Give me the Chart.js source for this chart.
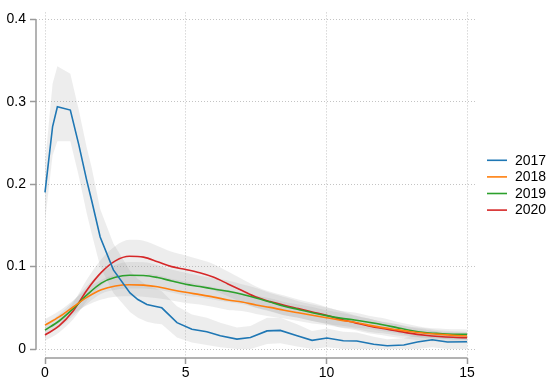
<!DOCTYPE html>
<html lang="en">
<head>
  <meta charset="UTF-8">
  <title>Densities 2017-2020</title>
  <script src="https://cdn.jsdelivr.net/npm/chart.js"></script>
  <style>
    body { margin: 0; background: #fff; }
  </style>
</head>
<body>
  <canvas id="chart0" width="550" height="387"></canvas>

  <script>
    /* Values. */
    const years = ["2017", "2018", "2019", "2020"]
    const colors = ["#1f77b4", "#ff7f0e", "#2ca02c", "#d62728"]

    const xTicks = [0, 5, 10, 15]
    const yTicks = [0, 0.1, 0.2, 0.3, 0.4]

    /* 2017 has its own, uneven x points */
    const x2017 = [0, 0.27, 0.44, 0.9, 1.2, 1.48, 1.66, 1.96, 2.43, 3.02, 3.3, 3.62, 3.9, 4.15, 4.69, 5.22,
      5.75, 6.23, 6.82, 7.3, 7.89, 8.36, 8.96, 9.49, 10.02, 10.6, 11.08, 11.68, 12.16, 12.75, 13.23,
      13.76, 14.3, 15]
    const y2017 = [0.19, 0.27, 0.294, 0.29, 0.248, 0.205, 0.18, 0.136, 0.096, 0.068, 0.06, 0.054, 0.052,
      0.05, 0.032, 0.024, 0.021, 0.016, 0.012, 0.014, 0.022, 0.0226, 0.016, 0.0105, 0.0133, 0.010,
      0.0097, 0.0057, 0.004, 0.0048, 0.0085, 0.0113, 0.0085, 0.0089]
    const lo2017 = [0.155, 0.235, 0.252, 0.252, 0.21, 0.165, 0.14, 0.10, 0.068, 0.045, 0.038, 0.033, 0.031,
      0.030, 0.014, 0.008, 0.005, 0.002, 0.0, 0.0, 0.006, 0.007, 0.003, 0.0, 0.002, 0.0,
      0.0, 0.0, 0.0, 0.0, 0.0, 0.002, 0.0, 0.0]
    const hi2017 = [0.225, 0.322, 0.343, 0.334, 0.29, 0.245, 0.22, 0.17, 0.128, 0.095, 0.085, 0.077, 0.074,
      0.070, 0.052, 0.042, 0.038, 0.032, 0.026, 0.028, 0.038, 0.038, 0.030, 0.022, 0.025, 0.021,
      0.020, 0.015, 0.012, 0.013, 0.018, 0.022, 0.018, 0.018]

    /* the smooth years share a grid of half units */
    const xGrid = [0, 0.5, 1, 1.5, 2, 2.5, 3, 3.5, 4, 4.5, 5, 5.5, 6, 6.5, 7, 7.5, 8, 8.5, 9, 9.5, 10,
      10.5, 11, 11.5, 12, 12.5, 13, 13.5, 14, 14.5, 15]

    const y2018 = [0.029, 0.039, 0.051, 0.063, 0.072, 0.0765, 0.078, 0.0775, 0.0755, 0.072, 0.0688, 0.066,
      0.063, 0.0595, 0.057, 0.0535, 0.0505, 0.047, 0.044, 0.041, 0.038, 0.035, 0.0325, 0.029, 0.026,
      0.0235, 0.021, 0.0192, 0.0178, 0.0166, 0.0158]
    const hi2018 = [0.036, 0.046, 0.059, 0.073, 0.084, 0.0895, 0.092, 0.0915, 0.0895, 0.085, 0.0818, 0.078,
      0.075, 0.0715, 0.068, 0.0645, 0.0615, 0.057, 0.054, 0.051, 0.047, 0.044, 0.0405, 0.037, 0.033,
      0.0305, 0.027, 0.0252, 0.0228, 0.0216, 0.0208]
    const lo2018 = [0.022, 0.032, 0.043, 0.053, 0.060, 0.0635, 0.064, 0.0635, 0.0615, 0.059, 0.0558, 0.054,
      0.051, 0.0475, 0.046, 0.0425, 0.0395, 0.037, 0.034, 0.031, 0.029, 0.026, 0.0245, 0.021, 0.019,
      0.0165, 0.015, 0.0132, 0.0128, 0.0116, 0.0108]

    const y2019 = [0.023, 0.034, 0.049, 0.066, 0.080, 0.087, 0.0895, 0.0893, 0.0868, 0.0825, 0.0785, 0.0758,
      0.0728, 0.070, 0.0665, 0.062, 0.057, 0.052, 0.048, 0.044, 0.0405, 0.0375, 0.0352, 0.0325, 0.0295,
      0.026, 0.0225, 0.020, 0.0188, 0.018, 0.0178]
    const hi2019 = [0.030, 0.042, 0.058, 0.077, 0.093, 0.102, 0.1055, 0.1053, 0.1018, 0.0965, 0.0925, 0.0888,
      0.0858, 0.083, 0.0785, 0.074, 0.068, 0.063, 0.058, 0.054, 0.0505, 0.0465, 0.0442, 0.0405, 0.0375,
      0.033, 0.0295, 0.026, 0.0248, 0.024, 0.0238]
    const lo2019 = [0.016, 0.026, 0.040, 0.055, 0.067, 0.072, 0.0735, 0.0733, 0.0718, 0.0685, 0.0645, 0.0628,
      0.0598, 0.057, 0.0545, 0.050, 0.046, 0.041, 0.038, 0.034, 0.0305, 0.0285, 0.0262, 0.0245, 0.0215,
      0.019, 0.0155, 0.014, 0.0128, 0.012, 0.0118]

    const y2020 = [0.017, 0.028, 0.046, 0.072, 0.093, 0.107, 0.1125, 0.1115, 0.106, 0.100, 0.0965, 0.0925,
      0.087, 0.079, 0.071, 0.063, 0.0575, 0.053, 0.049, 0.045, 0.041, 0.036, 0.032, 0.028, 0.0248,
      0.022, 0.019, 0.0168, 0.0152, 0.0142, 0.0137]
    const hi2020 = [0.024, 0.036, 0.056, 0.085, 0.109, 0.125, 0.1325, 0.1315, 0.125, 0.118, 0.1135, 0.1085,
      0.103, 0.094, 0.085, 0.076, 0.0695, 0.065, 0.060, 0.056, 0.051, 0.046, 0.041, 0.037, 0.0328,
      0.030, 0.026, 0.0238, 0.0212, 0.0202, 0.0197]
    const lo2020 = [0.010, 0.020, 0.036, 0.059, 0.077, 0.089, 0.0925, 0.0915, 0.087, 0.082, 0.0795, 0.0765,
      0.071, 0.064, 0.057, 0.050, 0.0455, 0.041, 0.038, 0.034, 0.031, 0.026, 0.023, 0.019, 0.0168,
      0.014, 0.012, 0.0098, 0.0092, 0.0082, 0.0077]


    const pts = (xs, ys) => xs.map((x, i) => ({ x: x, y: ys[i] }))

    /* 2017 is drawn as a polyline, the others smoothed */
    const series = [
      { xs: x2017, y: y2017, lo: lo2017, hi: hi2017, smooth: false },
      { xs: xGrid, y: y2018, lo: lo2018, hi: hi2018, smooth: true },
      { xs: xGrid, y: y2019, lo: lo2019, hi: hi2019, smooth: true },
      { xs: xGrid, y: y2020, lo: lo2020, hi: hi2020, smooth: true },
    ]

    const curve = s => s.smooth ? { cubicInterpolationMode: "monotone" } : { tension: 0 }

    /* Lines first (drawn on top), then band pairs hi/lo. */
    const datasets = []
    series.forEach((s, i) => {
      datasets.push({
        label: years[i],
        data: pts(s.xs, s.y),
        borderColor: colors[i],
        borderWidth: 1.6,
        pointRadius: 0,
        fill: false,
        order: 0,
        ...curve(s),
      })
    })
    series.forEach((s, i) => {
      const loIndex = datasets.length + 1
      datasets.push({
        label: "hi",
        data: pts(s.xs, s.hi),
        borderWidth: 0,
        pointRadius: 0,
        fill: loIndex,
        backgroundColor: "rgba(150,150,150,0.17)",
        order: 1,
        ...curve(s),
      })
      datasets.push({
        label: "lo",
        data: pts(s.xs, s.lo),
        borderWidth: 0,
        pointRadius: 0,
        fill: false,
        order: 1,
        ...curve(s),
      })
    })

    const axisColor = "#9a9a9a"
    const fontFamily = "'Liberation Sans', Arial, sans-serif"

    /* Stata style axes: lines only span the tick range, set off from the plot region */
    const axisLines = {
      id: "axisLines",
      afterDraw(chart) {
        const ctx = chart.ctx
        const xs = chart.scales.x
        const ys = chart.scales.y
        const area = chart.chartArea
        ctx.save()
        ctx.strokeStyle = axisColor
        ctx.lineWidth = 1.5
        ctx.beginPath()
        ctx.moveTo(area.left, ys.getPixelForValue(yTicks[0]))
        ctx.lineTo(area.left, ys.getPixelForValue(yTicks[yTicks.length - 1]))
        ctx.moveTo(xs.getPixelForValue(xTicks[0]), area.bottom)
        ctx.lineTo(xs.getPixelForValue(xTicks[xTicks.length - 1]), area.bottom)
        ctx.stroke()

        /* legend on the right */
        const midY = (area.top + area.bottom) / 2
        const rowH = 16.6
        ctx.font = "14px " + fontFamily
        ctx.textBaseline = "middle"
        ctx.fillStyle = "#000"
        years.forEach((yr, i) => {
          const y = midY + (i - (years.length - 1) / 2) * rowH
          ctx.strokeStyle = colors[i]
          ctx.lineWidth = 1.6
          ctx.beginPath()
          ctx.moveTo(area.right + 12, y)
          ctx.lineTo(area.right + 32, y)
          ctx.stroke()
          ctx.fillText(yr, area.right + 40, y + 0.5)
        })
        ctx.restore()
      }
    }

    const tickFont = { family: fontFamily, size: 14 }

    const ctx0 = document.getElementById("chart0").getContext("2d")
    const myChart0 = new Chart(ctx0, {
      type: "line",
      data: { datasets: datasets },
      options: {
        responsive: false,
        animation: false,
        devicePixelRatio: 1,
        layout: { padding: { top: 11, right: 75, left: 0, bottom: 0 } },
        plugins: {
          legend: { display: false },
          tooltip: { enabled: false },
          filler: { drawTime: "beforeDatasetsDraw" },
        },
        scales: {
          x: {
            type: "linear",
            min: -0.32,
            max: 15.28,
            afterBuildTicks: s => { s.ticks = xTicks.map(v => ({ value: v })) },
            afterFit: s => { s.height = 29 },
            ticks: { font: tickFont, color: "#000", padding: 1, maxRotation: 0, callback: v => String(v) },
            grid: { color: "#c4c4c4", lineWidth: 1, tickColor: axisColor, tickLength: 6, tickWidth: 1.5 },
            border: { display: false, dash: [1, 2] },
          },
          y: {
            type: "linear",
            min: -0.0109,
            max: 0.4085,
            afterBuildTicks: s => { s.ticks = yTicks.map(v => ({ value: v })) },
            afterFit: s => { s.width = 36 },
            ticks: { font: tickFont, color: "#000", padding: 4, callback: v => String(v) },
            grid: { color: "#c4c4c4", lineWidth: 1, tickColor: axisColor, tickLength: 6, tickWidth: 1.5 },
            border: { display: false, dash: [1, 2] },
          },
        },
      },
      plugins: [axisLines],
    })
  </script>
</body>
</html>
